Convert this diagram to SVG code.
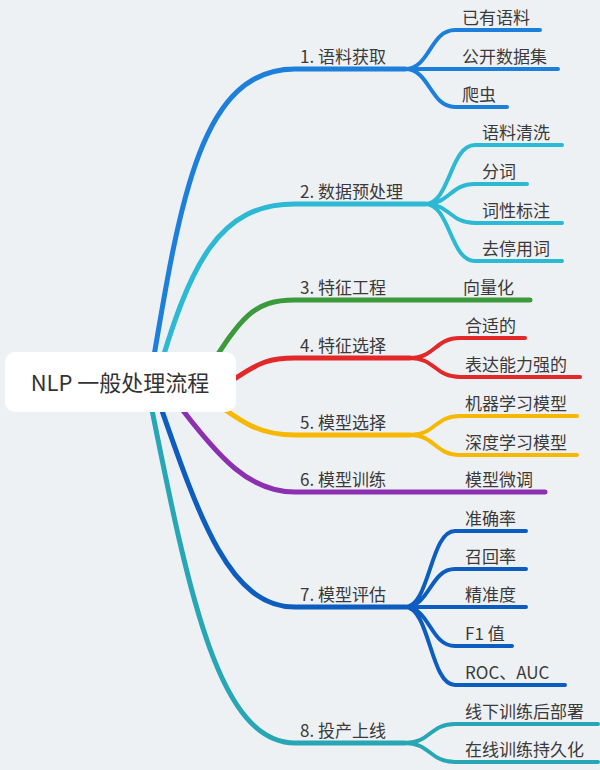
<svg xmlns="http://www.w3.org/2000/svg" width="600" height="770" viewBox="0 0 600 770">
<style>
text{font-family:"Noto Sans CJK SC","Liberation Sans",sans-serif;font-size:17px;fill:#3a3a3a}
path{fill:none;stroke-linecap:round}
.m{stroke-width:5}.c{stroke-width:4}
</style>
<rect width="600" height="770" fill="#eef1f4"/>
<g id="connectors">
<g stroke="#1b7fdb"><path class="m" d="M150 380 C180 200 200 69 295 69 L405 69"/><path class="c" d="M405 69 C430 69 430 30 455 30 L540 30 M405 69 L558 69 M405 69 C430 69 430 107 455 107 L507 107"/></g>
<g stroke="#2bb9d3"><path class="m" d="M155 385 C190 260 220 204 295 204 L425 204"/><path class="c" d="M425 204 C450 204 450 145 475 145 L562 145 M425 204 C450 204 450 184 475 184 L527 184 M425 204 C450 204 450 223 475 223 L562 223 M425 204 C450 204 450 261 475 261 L562 261"/></g>
<g stroke="#3c9a3c"><path class="m" d="M200 382 C240 320 250 300 295 300 L530 300"/></g>
<g stroke="#e22828"><path class="m" d="M236 378 C260 362 270 358 295 358 L410 358"/><path class="c" d="M410 358 C435 358 435 338 460 338 L525 338 M410 358 C435 358 435 377 460 377 L580 377"/></g>
<g stroke="#f6b800"><path class="m" d="M200 392 C245 425 260 435 295 435 L410 435"/><path class="c" d="M410 435 C435 435 435 416 460 416 L577 416 M410 435 C435 435 435 455 460 455 L577 455"/></g>
<g stroke="#8a30b0"><path class="m" d="M175 400 C220 460 250 492 295 492 L545 492"/></g>
<g stroke="#0d5cc0"><path class="m" d="M160 405 C200 520 230 607 295 607 L405 607"/><path class="c" d="M405 607 C430 607 430 531 455 531 L526 531 M405 607 C430 607 430 569 455 569 L526 569 M405 607 L526 607 M405 607 C430 607 430 646 455 646 L512 646 M405 607 C430 607 430 685 455 685 L565 685"/></g>
<g stroke="#27a6b6"><path class="m" d="M152 410 C190 600 220 743 295 743 L405 743"/><path class="c" d="M405 743 C430 743 430 724 455 724 L598 724 M405 743 C430 743 430 762 455 762 L598 762"/></g>
</g>
<g id="root"><rect x="5" y="352" width="231" height="60" rx="10" fill="#fff"/><text x="120" y="391" text-anchor="middle" style="font-size:22px;fill:#333">NLP 一般处理流程</text></g>
<g id="b1"><text x="300" y="63">1. 语料获取</text><text x="462" y="24">已有语料</text><text x="462" y="63">公开数据集</text><text x="462" y="101">爬虫</text></g>
<g id="b2"><text x="300" y="198">2. 数据预处理</text><text x="482" y="139">语料清洗</text><text x="482" y="178">分词</text><text x="482" y="217">词性标注</text><text x="482" y="255">去停用词</text></g>
<g id="b3"><text x="300" y="294">3. 特征工程</text><text x="463" y="294">向量化</text></g>
<g id="b4"><text x="300" y="352">4. 特征选择</text><text x="465" y="332">合适的</text><text x="465" y="371">表达能力强的</text></g>
<g id="b5"><text x="300" y="429">5. 模型选择</text><text x="465" y="410">机器学习模型</text><text x="465" y="449">深度学习模型</text></g>
<g id="b6"><text x="300" y="486">6. 模型训练</text><text x="465" y="486">模型微调</text></g>
<g id="b7"><text x="300" y="601">7. 模型评估</text><text x="465" y="525">准确率</text><text x="465" y="563">召回率</text><text x="465" y="601">精准度</text><text x="465" y="640">F1 值</text><text x="465" y="679">ROC、AUC</text></g>
<g id="b8"><text x="300" y="737">8. 投产上线</text><text x="465" y="718">线下训练后部署</text><text x="465" y="756">在线训练持久化</text></g>
</svg>
